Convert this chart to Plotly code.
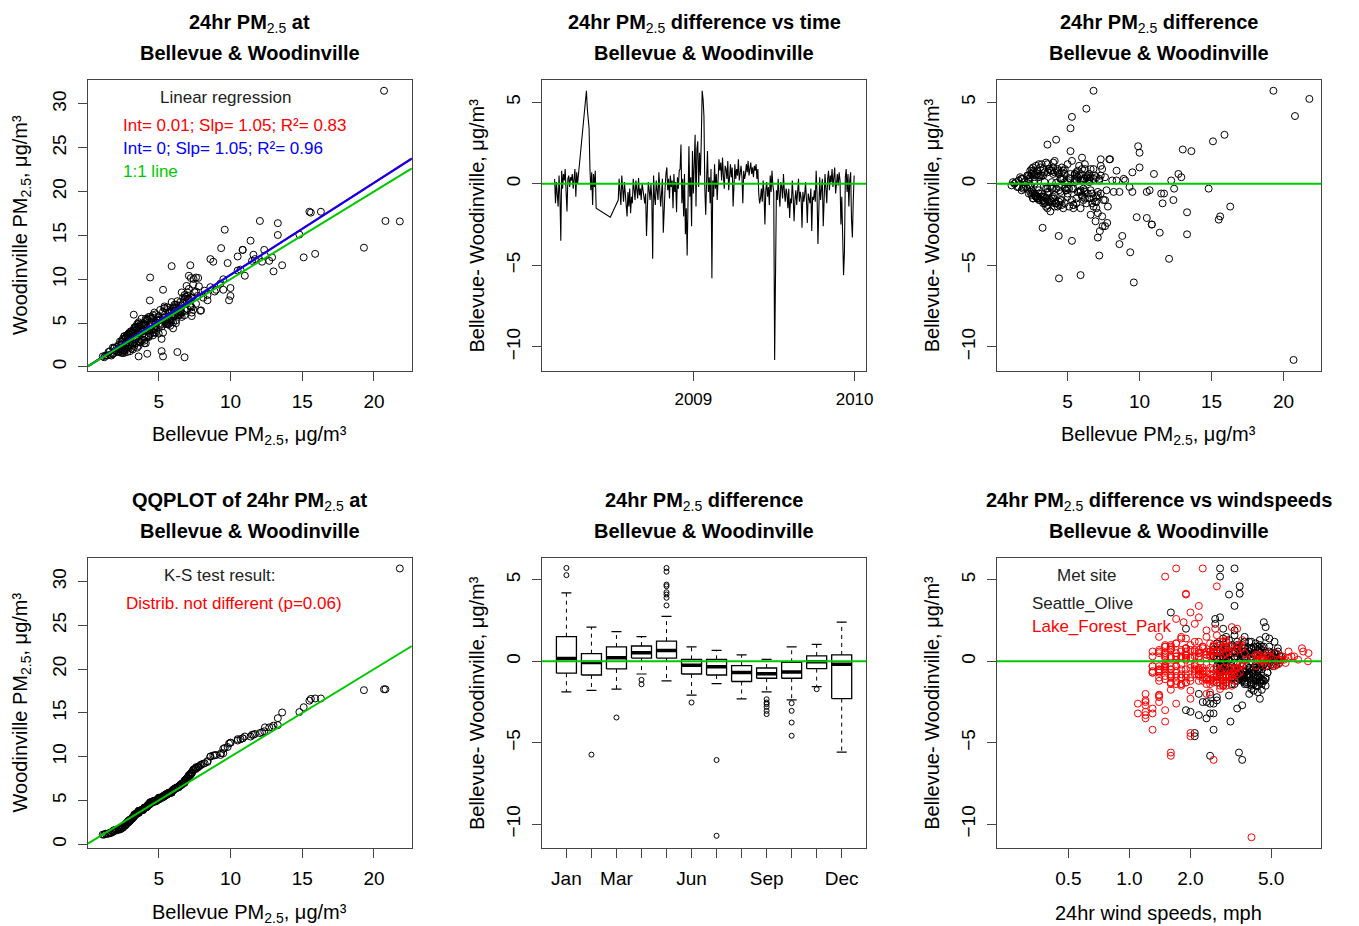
import numpy as np
import pandas as pd
import plotly.graph_objects as go

W, H = 1359, 926
FONT = "Liberation Sans, Arial, sans-serif"

# ---------------- data (every 2nd day, 2008-02-22 .. 2009-12-31) ----------------
start_date = "2008-02-22"

# Bellevue - Woodinville 24hr PM2.5 difference (ug/m3); None = missing day
diff = ([0.3, -1.2, 0.1, -0.9, -1.4, 0.5, -0.7, -3.5, 0.8, -0.3,
         0.6, 0.2, 0.9, -0.5, -1.7, 0.3, 0.5, -0.2, 0.4, 0.2,
         0.6, -0.3, 0.5, 0.9, -0.8, 0.7, 0.0]
        + [None] * 9 +
        [5.7, 4.6, 4.1, 3.4, 0.9, -0.4, 0.7, -1.3, 0.6, -0.2, 0.8, -1.5]
        + [None] * 15 + [-2.05] + [None] * 8 +
        [-1.0, 0.3, -0.8, -1.3, 0.5, -0.4, -1.1, 0.1, -0.6,
         -0.9, -2.0, -0.5, -1.4, -0.3, -1.8, -0.8, -1.2, 0.3, -0.6,
         -1.0, 0.2, -0.4, -0.9, 0.35, -0.7, -0.3, -1.0, 0.05, -0.5,
         -0.8, -1.2, -0.6, -3.2, -1.5, 0.1, -0.4, -1.0, 0.0, -0.9,
         -4.6,
         0.5, -0.8, -1.3, 0.2, -0.5, -1.0, 0.7, -0.2, -1.4, -0.6, 0.3, -3.0, -0.9, -0.3, 0.6,
         1.0, -0.4, 0.3, -0.9, 0.5, -0.2, 0.2, -1.5, 0.6, -0.5, 0.1, -1.75, 0.4, -0.3, 0.8,
         0.9, 2.4, -1.2, 0.3, -2.0, 0.6, -3.1, -1.5, -4.4, 1.0, 2.3, -0.8, 0.4, -2.6, 2.0,
         -0.6, 1.5, 3.0, -1.4, 2.1, 2.6, -0.2, 1.9, 0.5, 2.7,
         5.7, 5.2, 4.15, -0.3, -1.9, 0.2,
         2.0, -0.5, 0.4, -1.2, 0.9, -5.8, 0.2, -0.8, 1.2, -0.3, 0.6, -1.0, 0.1, 1.5,
         0.8, 1.3, 0.2, 1.6, 0.5, -0.3, 1.1, 0.9, 0.3, 1.4, -0.4, 0.7, 1.2, 0.4, 1.0,
         -1.4, 0.6, 1.2, 0.3, 0.9, 0.5, 1.5, 0.2, 0.7, 1.1, 0.4, -1.2, 0.8, 0.3, 0.6,
         1.2, 0.7, 1.4, 0.5, 0.9, 1.3, 0.6, 1.0, 0.4, 1.1, 0.8, 1.2, 0.3, 0.9, -0.6, -1.2,
         -0.9, -0.3, -1.1, 0.2, -0.6, -2.5, -0.4, 0.1, -0.8, -0.2, -1.3, 0.5, -0.5, 0.8, -0.1,
         -0.5, -10.8, -6.05, -0.4, -1.0, 0.3, -0.7, -1.4, 0.1, -0.2, -0.9, 0.6, -0.5, -1.1, -0.3,
         -0.6, -1.5, -0.3, -2.1, -0.9, -1.2, 0.2, -0.8, -2.3, -1.0, -0.4, -1.3, -0.7, 0.3, -1.1, -0.5,
         -0.9, -2.7, -0.5, -1.1, -0.7, 0.1, -1.0, -2.4, -0.6, -0.9, -1.2, -0.3, -2.9, -0.8, -1.0,
         -0.4, -1.1, 0.8, -0.6, -3.7, -0.2, 0.4, -1.0, -0.5, 0.3, -2.6, -0.8, 0.6, -0.3, -1.2,
         0.3, 0.8, -0.4, 0.5, 0.1, 0.9, -0.2, 0.4, 1.0, -0.6, 0.3, 0.6, -0.1, 0.7, 0.2,
         -2.5, -0.8, -3.2, -5.6, -4.2, 0.4, 0.9, -0.5, 0.6, -1.4, 0.2, 0.7, -2.2, -3.3, -1.0, 0.5])

# Bellevue 24hr PM2.5 (ug/m3)
bellevue = ([6.2, 3.4, 4.8, 2.9, 4.1, 6.9, 2.5, 5.3, 5.7, 3.6,
             2.7, 5.9, 3.3, 7.1, 3.8, 1.9, 6.4, 4.4, 3.0, 1.6,
             5.2, 6.1, 2.3, 7.4, 3.1, 4.6, 1.3]
            + [None] * 9 +
            [6.8, 6.3, 5.3, 5.2, 6.6, 4.9, 2.6, 3.6, 5.5, 2.1, 4.3, 7.0]
            + [None] * 15 + [9.8] + [None] * 8 +
            [3.3, 6.5, 2.8, 4.4, 5.8, 1.8, 6.9, 3.9, 5.0,
             6.2, 7.4, 2.4, 3.5, 5.3, 7.1, 4.0, 5.6, 6.8, 3.2,
             4.5, 7.2, 3.0, 2.6, 5.1, 6.0, 2.2, 7.5, 4.2, 3.7,
             3.4, 4.1, 6.4, 8.8, 5.9, 5.5, 7.7, 3.8, 2.7, 6.8,
             12.05,
             7.3, 3.2, 5.4, 8.1, 10.5, 4.6, 9.5, 2.4, 7.8, 11.7, 6.1, 11.4, 3.9, 12.4, 4.8,
             4.0, 10.7, 2.3, 6.5, 3.1, 1.5, 9.0, 4.7, 12.7, 5.9, 1.4, 13.3, 7.6, 3.5, 8.4,
             6.0, 3.6, 11.6, 8.9, 15.6, 4.4, 13.3, 5.4, 7.2, 10.0, 9.9, 7.0, 12.9, 7.6, 13.6,
             11.5, 7.3, 15.9, 6.8, 13.0, 15.1, 9.3, 10.0, 5.6, 4.2,
             19.3, 21.8, 20.8, 14.8, 6.6, 12.2,
             5.2, 9.5, 6.3, 4.2, 3.7, 4.4, 8.4, 2.8, 6.2, 5.0, 11.0, 3.6, 2.0, 7.9,
             2.9, 4.0, 5.6, 6.0, 2.2, 3.9, 7.3, 4.8, 1.8, 5.3, 4.4, 3.4, 3.0, 6.6, 2.6,
             5.1, 2.5, 3.6, 4.7, 6.2, 3.2, 7.95, 2.7, 4.3, 5.8, 1.7, 3.3, 2.4, 5.5, 4.0,
             3.2, 5.6, 4.1, 2.2, 6.8, 3.5, 2.9, 4.6, 6.4, 2.8, 3.8, 5.0, 4.5, 2.5, 3.0, 6.3,
             2.6, 5.4, 3.7, 6.1, 2.3, 10.85, 4.9, 3.4, 6.0, 1.9, 4.6, 2.8, 5.7, 3.9, 2.4,
             4.5, 20.7, 9.6, 6.6, 3.1, 5.2, 2.7, 4.3, 6.5, 2.9, 4.0, 5.9, 3.6, 7.0, 4.8,
             6.7, 3.6, 5.1, 10.5, 2.9, 4.8, 6.0, 3.3, 6.94, 7.6, 2.5, 5.4, 4.1, 7.2, 3.9, 5.8,
             3.5, 3.26, 6.2, 4.4, 7.1, 5.0, 3.0, 7.75, 2.6, 5.6, 6.7, 4.2, 7.24, 2.8, 5.3,
             5.9, 3.4, 4.7, 7.3, 8.6, 3.8, 2.4, 6.1, 8.2, 4.5, 7.43, 2.9, 5.5, 1.9, 4.2,
             4.6, 2.6, 6.2, 3.0, 1.2, 4.3, 1.6, 5.7, 3.1, 2.7, 1.8, 6.5, 1.1, 3.6, 2.3,
             10.85, 5.0, 4.38, 5.9, 9.35, 7.0, 3.7, 8.6, 2.5, 16.3, 6.5, 4.1, 15.5, 7.1, 12.35, 3.3])

# 24hr wind speed (mph) at Lake_Forest_Park met site
wind_lfp = ([1.5, 2.6, 1.9, 3.1, 1.6, 2.2, 1.3, 1.2, 2.9, 4.2,
             1.8, 2.4, 3.4, 1.4, 2.8, 1.7, 5.3, 2.1, 1.5, 6.1,
             2.5, 1.6, 3.0, 2.3, 1.9, 1.4, 7.6]
            + [None] * 9 +
            [1.7, 2.7, 1.9, 2.2, 1.5, 3.2, 2.0, 2.6, 1.3, 2.4, 3.6, 1.8]
            + [None] * 15 + [1.4] + [None] * 8 +
            [2.8, 1.6, 3.4, 1.9, 2.2, 2.9, 1.5, 4.4, 2.1,
             1.7, 2.4, 3.1, 2.9, 1.4, 2.0, 2.6, 3.3, 1.8, 2.3,
             3.0, 1.5, 2.2, 2.7, 1.9, 3.5, 1.3, 2.4, 4.6, 1.6,
             2.1, 2.9, 1.4, 1.3, 3.2, 1.7, 2.5, 1.9, 3.0, 1.5,
             2.0,
             1.4, 2.3, 3.0, 1.6, 2.8, 1.8, 2.1, 3.6, 2.5, 1.3, 2.7, 1.5, 3.2, 1.7, 2.4,
             2.6, 1.5, 4.3, 2.2, 1.7, 5.1, 2.0, 2.9, 1.4, 3.3, 5.8, 1.6, 2.4, 4.7, 1.9,
             1.6, 1.85, 2.3, 1.3, 1.2, 2.7, 1.2, 3.0, 2.0, 1.5, 2.1, 1.8, 2.5, 1.1, 2.65,
             2.2, 1.4, 2.0, 1.7, 3.2, 1.7, 1.5, 2.4, 3.0, 2.2,
             2.3, 1.5, 1.9, 1.3, 2.5, 1.8,
             3.4, 1.6, 2.4, 1.4, 2.9, 1.6, 1.9, 3.1, 2.2, 1.5, 2.7, 2.0, 5.6, 1.8,
             2.3, 3.6, 1.9, 2.7, 4.8, 2.1, 1.7, 3.1, 2.5, 1.9, 3.3, 1.6, 2.9, 4.4, 2.0,
             1.8, 2.6, 3.0, 2.1, 1.5, 3.7, 2.4, 5.0, 2.2, 1.7, 4.2, 2.9, 1.9, 6.3, 2.8,
             2.1, 3.4, 1.8, 2.6, 2.3, 3.0, 7.2, 1.6, 4.3, 2.5, 1.9, 2.8, 6.5, 3.2, 1.5, 2.2,
             3.1, 1.7, 2.4, 2.0, 2.8, 1.4, 1.5, 5.5, 2.2, 3.5, 1.6, 7.65, 2.6, 7.1, 4.6,
             1.9, 4.0, 2.6, 2.7, 1.6, 2.2, 3.3, 1.8, 4.5, 2.0, 2.9, 6.1, 1.4, 2.5, 3.6,
             2.3, 2.8, 1.5, 1.4, 3.0, 1.7, 2.2, 1.6, 2.0, 2.6, 3.4, 1.9, 1.3, 5.7, 2.4, 1.8,
             1.6, 1.2, 2.1, 2.7, 1.4, 3.8, 2.3, 1.2, 1.7, 2.9, 2.0, 1.5, 1.3, 2.5, 1.8,
             2.0, 3.2, 1.6, 2.4, 1.5, 1.8, 2.9, 1.4, 2.2, 4.9, 1.7, 2.7, 1.9, 5.2, 2.5,
             1.7, 3.0, 2.3, 1.5, 6.8, 2.6, 5.4, 1.9, 3.5, 1.4, 4.8, 2.1, 5.9, 1.6, 4.0,
             1.2, 2.2, 1.1, 1.6, 1.3, 1.9, 2.6, 1.5, 3.1, 2.4, 4.5, 1.8, 1.4, 1.2, 2.8, 3.3])

# 24hr wind speed (mph) at Seattle_Olive met site
wind_so = ([3.0, 4.2, 2.7, 3.6, 4.5, 3.3, 2.8, 2.4, 3.9, 4.8,
            2.9, 3.7, 4.3, 3.1, 4.0, 2.6, 5.2, 3.4, 4.6, 5.0,
            3.5, 2.8, 4.1, 3.2, 3.8, 2.7, 5.3]
           + [None] * 9 +
           [2.8, 3.5, 3.1, 3.3, 2.6, 4.2, 3.0, 3.7, 2.5, 4.4, 3.4, 2.9]
           + [None] * 15 + [2.5] + [None] * 8 +
           [4.4, 2.9, 3.6, 2.7, 4.0, 3.3, 4.7, 3.1, 3.8,
            3.0, 3.9, 4.5, 3.2, 2.8, 4.1, 3.5, 4.6, 2.6, 3.4,
            3.7, 2.9, 3.3, 4.3, 3.0, 4.8, 2.7, 3.9, 5.4, 3.1,
            3.3, 4.4, 2.8, 2.6, 4.7, 3.0, 3.9, 3.2, 4.3, 2.7,
            2.1,
            2.7, 3.8, 4.4, 3.0, 4.1, 3.4, 2.6, 4.6, 3.7, 2.9, 4.0, 1.9, 4.3, 3.2, 3.6,
            3.4, 2.8, 4.9, 3.6, 2.9, 5.3, 3.3, 4.2, 2.7, 3.9, 5.5, 4.5, 3.1, 4.8, 3.0,
            3.2, 4.6, 3.6, 2.6, 2.2, 3.9, 2.0, 4.0, 2.1, 2.8, 2.65, 3.5, 4.2, 2.5, 1.9,
            3.1, 3.7, 1.6, 4.1, 4.7, 2.65, 2.9, 3.3, 4.4, 2.8,
            3.3, 2.8, 3.5, 3.6, 4.3, 2.7,
            2.9, 4.3, 3.1, 3.7, 2.6, 2.5, 4.6, 3.2, 4.0, 2.8, 3.5, 4.4, 5.6, 3.0,
            3.6, 4.4, 2.9, 3.3, 5.2, 3.8, 2.7, 4.1, 3.4, 4.9, 3.0, 4.5, 3.7, 5.1, 3.2,
            4.0, 3.1, 3.9, 2.8, 4.6, 3.5, 4.7, 5.3, 3.0, 4.2, 3.6, 2.9, 4.4, 5.6, 3.3,
            3.4, 4.3, 2.9, 3.8, 4.9, 3.1, 5.4, 3.6, 4.2, 2.7, 4.0, 5.2, 3.3, 4.5, 3.7, 4.1,
            4.2, 3.0, 3.6, 4.5, 2.8, 2.3, 3.9, 5.2, 3.3, 4.6, 4.0, 5.0, 3.1, 5.4, 4.9,
            3.5, None, 3.6, 4.4, 3.0, 3.7, 4.1, 3.3, 5.1, 2.9, 3.8, 4.9, 4.3, 3.2, 4.5,
            3.4, 4.3, 2.9, 3.1, 3.9, 4.6, 3.3, 2.8, 4.4, 3.6, 4.1, 3.0, 4.8, 5.5, 3.5, 2.7,
            3.8, 3.6, 2.9, 4.2, 3.3, 4.6, 3.1, 2.7, 4.0, 3.5, 4.5, 2.8, 3.4, 3.9, 4.3,
            3.2, 4.5, 3.7, 2.9, 3.15, 4.2, 3.5, 4.7, 3.0, 5.0, 2.6, 3.9, 4.4, 5.1, 3.4,
            3.6, 4.2, 2.9, 4.7, 5.3, 3.3, 5.0, 3.9, 4.4, 3.1, 5.1, 3.7, 5.5, 4.0, 4.6,
            2.4, 3.6, 2.5, 3.47, 2.6, 4.1, 3.0, 4.4, 3.3, 3.8, 5.0, 2.8, 2.7, 2.2, 4.2, 3.5])

# monthly box-plot statistics of the difference (Jan..Dec)
month_ticktext = ["Jan", "", "Mar", "", "", "Jun", "", "", "Sep", "", "", "Dec"]
box_lo = [-1.88, -1.78, -1.71, -0.78, -1.20, -2.08, -1.37, -2.31, -1.88, -2.37, -1.55, -5.57]
box_q1 = [-0.73, -0.84, -0.47, 0.20, 0.20, -0.78, -0.84, -1.24, -1.04, -1.04, -0.45, -2.29]
box_med = [0.18, -0.08, 0.22, 0.53, 0.67, -0.24, -0.33, -0.69, -0.76, -0.65, -0.02, -0.18]
box_q3 = [1.51, 0.47, 0.88, 0.94, 1.24, 0.12, 0.12, -0.27, -0.41, -0.06, 0.33, 0.39]
box_hi = [4.20, 2.10, 1.82, 1.51, 2.76, 0.88, 0.67, 0.39, 0.12, 0.88, 1.04, 2.41]
out_month = [1, 1, 2, 3, 4, 4, 5, 5, 5, 5, 5, 5, 5, 5, 6, 7, 7,
             9, 9, 9, 9, 9, 9, 10, 10, 10, 10, 11]
out_value = [5.73, 5.29, -5.73, -3.45, -1.14, -1.41, 5.73, 5.50, 4.71, 4.61, 4.24, 4.10, 3.90, 3.43,
             -2.53, -6.06, -10.71, -2.33, -2.53, -2.63, -2.80, -3.04, -3.24, -2.57, -3.04, -3.76, -4.57, -1.71]

# regression results printed on panel 1
reg_all = (0.01, 1.05)   # intercept, slope
reg_zero = (0.0, 1.05)

# ---------------- derived ----------------
n = len(diff)
dates = pd.date_range(start_date, periods=n, freq="2D")
df = pd.DataFrame({"date": dates, "diff": diff, "bel": bellevue[:n],
                   "lfp": wind_lfp[:n], "so": wind_so[:n]}).astype(
    {"diff": float, "bel": float, "lfp": float, "so": float})
df["woo"] = df["bel"] - df["diff"]
ok = df.dropna(subset=["diff", "bel"])

# ---------------- layout geometry ----------------
def px(x):
    return x / W

def py(y):
    return 1 - y / H

COLS = [(88.3, 414.0), (544.7, 870.7), (1001.7, 1328.3)]
ROWS = [(80.0, 370.7), (557.7, 848.0)]
XR_PM = [0.06, 22.64]
YR_PM = [-0.43, 32.73]
YR_D = [-11.46, 6.36]
GREEN = "#00C800"

fig = go.Figure()

circ = dict(symbol="circle-open", size=7, color="black", line=dict(width=1))

# panel 1
fig.add_trace(go.Scatter(x=ok["bel"].tolist(), y=ok["woo"].tolist(), mode="markers", marker=circ,
                         xaxis="x", yaxis="y", showlegend=False))
xl = np.array(XR_PM)
fig.add_trace(go.Scatter(x=xl, y=reg_all[0] + reg_all[1] * xl, mode="lines",
                         line=dict(color="red", width=2), xaxis="x", yaxis="y", showlegend=False))
fig.add_trace(go.Scatter(x=xl, y=reg_zero[0] + reg_zero[1] * xl, mode="lines",
                         line=dict(color="blue", width=2), xaxis="x", yaxis="y", showlegend=False))
fig.add_trace(go.Scatter(x=xl, y=xl, mode="lines", line=dict(color=GREEN, width=2),
                         xaxis="x", yaxis="y", showlegend=False))

# panel 2
fig.add_trace(go.Scatter(x=df["date"].tolist(), y=df["diff"].tolist(), mode="lines", connectgaps=True,
                         line=dict(color="black", width=1.1), xaxis="x2", yaxis="y2", showlegend=False))

# panel 3
fig.add_trace(go.Scatter(x=ok["bel"].tolist(), y=ok["diff"].tolist(), mode="markers", marker=circ,
                         xaxis="x3", yaxis="y3", showlegend=False))

# panel 4 (QQ)
fig.add_trace(go.Scatter(x=sorted(ok["bel"].tolist()), y=sorted(ok["woo"].tolist()), mode="markers",
                         marker=circ, xaxis="x4", yaxis="y4", showlegend=False))
fig.add_trace(go.Scatter(x=xl, y=xl, mode="lines", line=dict(color=GREEN, width=2),
                         xaxis="x4", yaxis="y4", showlegend=False))

# panel 5 (monthly boxplots)
HW, SW = 0.4, 0.2
bx, by, mx, my, wx, wy, sx, sy = [], [], [], [], [], [], [], []
for k in range(12):
    m = k + 1
    bx += [m - HW, m + HW, m + HW, m - HW, m - HW, None]
    by += [box_q1[k], box_q1[k], box_q3[k], box_q3[k], box_q1[k], None]
    mx += [m - HW, m + HW, None]
    my += [box_med[k], box_med[k], None]
    wx += [m, m, None, m, m, None]
    wy += [box_q3[k], box_hi[k], None, box_q1[k], box_lo[k], None]
    sx += [m - SW, m + SW, None, m - SW, m + SW, None]
    sy += [box_hi[k], box_hi[k], None, box_lo[k], box_lo[k], None]
fig.add_trace(go.Scatter(x=wx, y=wy, mode="lines", line=dict(color="black", width=1, dash="4px,4px"),
                         xaxis="x5", yaxis="y5", showlegend=False))
fig.add_trace(go.Scatter(x=sx, y=sy, mode="lines", line=dict(color="black", width=1.2),
                         xaxis="x5", yaxis="y5", showlegend=False))
fig.add_trace(go.Scatter(x=bx, y=by, mode="lines", line=dict(color="black", width=1.3),
                         xaxis="x5", yaxis="y5", showlegend=False))
fig.add_trace(go.Scatter(x=mx, y=my, mode="lines", line=dict(color="black", width=3.5),
                         xaxis="x5", yaxis="y5", showlegend=False))
fig.add_trace(go.Scatter(x=out_month, y=out_value, mode="markers",
                         marker=dict(symbol="circle-open", size=5, color="black", line=dict(width=1)),
                         xaxis="x5", yaxis="y5", showlegend=False))

# panel 6
so_ok = df.dropna(subset=["diff", "so"])
lfp_ok = df.dropna(subset=["diff", "lfp"])
fig.add_trace(go.Scatter(x=so_ok["so"].tolist(), y=so_ok["diff"].tolist(), mode="markers", marker=circ,
                         xaxis="x6", yaxis="y6", showlegend=False))
fig.add_trace(go.Scatter(x=lfp_ok["lfp"].tolist(), y=lfp_ok["diff"].tolist(), mode="markers",
                         marker=dict(symbol="circle-open", size=7, color="red", line=dict(width=1)),
                         xaxis="x6", yaxis="y6", showlegend=False))

# zero lines
for k in (2, 3, 5, 6):
    fig.add_shape(type="line", xref=f"x{k} domain", yref=f"y{k}", x0=0, x1=1, y0=0, y1=0,
                  line=dict(color=GREEN, width=2), layer="above")

# ---------------- axes ----------------
TICKFONT = dict(family=FONT, size=19, color="black")
base = dict(showline=True, mirror=True, linecolor="#444", linewidth=1, ticks="outside",
            ticklen=9, tickwidth=1, tickcolor="#444", showgrid=False, zeroline=False,
            tickfont=TICKFONT, fixedrange=True)

def xdom(c):
    return [px(COLS[c][0]), px(COLS[c][1])]

def ydom(r):
    return [py(ROWS[r][1]), py(ROWS[r][0])]

yb = dict(base, tickangle=-90, ticklabelstandoff=4)
xb = dict(base, ticklabelstandoff=4)

layout_axes = dict(
    xaxis=dict(xb, domain=xdom(0), anchor="y", range=XR_PM, tickvals=[5, 10, 15, 20]),
    yaxis=dict(yb, domain=ydom(0), anchor="x", range=YR_PM, tickvals=[0, 5, 10, 15, 20, 25, 30]),
    xaxis2=dict(xb, domain=xdom(1), anchor="y2", type="date",
                range=["2008-01-24 05:00", "2010-01-27 07:00"],
                tickvals=["2009-01-01", "2010-01-01"], ticktext=["2009", "2010"],
                tickfont=dict(TICKFONT, size=17)),
    yaxis2=dict(yb, domain=ydom(0), anchor="x2", range=YR_D, tickvals=[-10, -5, 0, 5]),
    xaxis3=dict(xb, domain=xdom(2), anchor="y3", range=XR_PM, tickvals=[5, 10, 15, 20]),
    yaxis3=dict(yb, domain=ydom(0), anchor="x3", range=YR_D, tickvals=[-10, -5, 0, 5]),
    xaxis4=dict(xb, domain=xdom(0), anchor="y4", range=XR_PM, tickvals=[5, 10, 15, 20]),
    yaxis4=dict(yb, domain=ydom(1), anchor="x4", range=YR_PM, tickvals=[0, 5, 10, 15, 20, 25, 30]),
    xaxis5=dict(xb, domain=xdom(1), anchor="y5", range=[0.02, 12.98],
                tickvals=list(range(1, 13)), ticktext=month_ticktext),
    yaxis5=dict(yb, domain=ydom(1), anchor="x5", range=YR_D, tickvals=[-10, -5, 0, 5]),
    xaxis6=dict(xb, domain=xdom(2), anchor="y6", type="log", range=[-0.656, 0.9475],
                tickvals=[0.5, 1, 2, 5], ticktext=["0.5", "1.0", "2.0", "5.0"]),
    yaxis6=dict(yb, domain=ydom(1), anchor="x6", range=YR_D, tickvals=[-10, -5, 0, 5]),
)

# ---------------- text ----------------
ann = []

def text(x, y, t, size=17, color="black", xanchor="center", angle=0):
    ann.append(dict(x=px(x), y=py(y), xref="paper", yref="paper", text=t, showarrow=False,
                    xanchor=xanchor, yanchor="middle", textangle=angle,
                    font=dict(family=FONT, size=size, color=color)))

PM = "PM<sub>2.5</sub>"
titles = [
    ("<b>24hr PM</b><sub>2.5</sub><b> at</b>", 0, 0),
    ("<b>24hr PM</b><sub>2.5</sub><b> difference vs time</b>", 1, 0),
    ("<b>24hr PM</b><sub>2.5</sub><b> difference</b>", 2, 0),
    ("<b>QQPLOT of 24hr PM</b><sub>2.5</sub><b> at</b>", 0, 1),
    ("<b>24hr PM</b><sub>2.5</sub><b> difference</b>", 1, 1),
    ("<b>24hr PM</b><sub>2.5</sub><b> difference vs windspeeds</b>", 2, 1),
]
TITLE_Y = [(23.5, 53.0), (501.5, 531.0)]
for t, c, r in titles:
    cx = (COLS[c][0] + COLS[c][1]) / 2
    text(cx, TITLE_Y[r][0], t, size=20)
    text(cx, TITLE_Y[r][1], "<b>Bellevue &amp; Woodinville</b>", size=20)

XLAB_Y = [435.0, 913.0]
YLAB_X = [21.7, 479.7, 936.7]
xlab = {(0, 0): f"Bellevue {PM}, μg/m³", (2, 0): f"Bellevue {PM}, μg/m³",
        (0, 1): f"Bellevue {PM}, μg/m³", (2, 1): "24hr wind speeds, mph"}
for (c, r), t in xlab.items():
    text((COLS[c][0] + COLS[c][1]) / 2, XLAB_Y[r], t, size=20)
for c in range(3):
    for r in range(2):
        t = f"Woodinville {PM}, μg/m³" if c == 0 else "Bellevue- Woodinville, μg/m³"
        text(YLAB_X[c], (ROWS[r][0] + ROWS[r][1]) / 2, t, size=20, angle=-90)

# panel legends / notes
text(226.5, 97.5, "Linear regression", size=17, color="#222")
text(121.5, 125.5, f"Int= {reg_all[0]:.2f}; Slp= {reg_all[1]:.2f}; R²= 0.83", size=17, color="red", xanchor="left")
text(121.5, 148.5, f"Int= {reg_zero[0]:.0f}; Slp= {reg_zero[1]:.2f}; R²= 0.96", size=17, color="blue", xanchor="left")
text(121.5, 171.0, "1:1 line", size=17, color=GREEN, xanchor="left")
text(221.0, 575.0, "K-S test result:", size=17, color="#222")
text(235.0, 603.5, "Distrib. not different (p=0.06)", size=17, color="red")
text(1093.0, 575.0, "Met site", size=17, color="#222")
text(1035.0, 603.5, "Seattle_Olive", size=17, color="#222", xanchor="left")
text(1035.0, 626.5, "Lake_Forest_Park", size=17, color="red", xanchor="left")

fig.update_layout(width=W, height=H, autosize=False, margin=dict(l=0, r=0, t=0, b=0, pad=0),
                  paper_bgcolor="white", plot_bgcolor="white", showlegend=False,
                  annotations=ann, **layout_axes)

fig.write_html("out.html")
